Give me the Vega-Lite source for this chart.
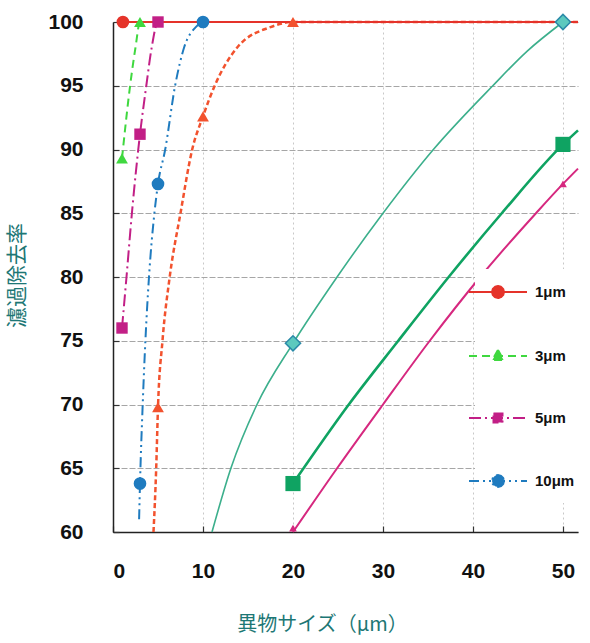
{
  "$schema": "https://vega.github.io/schema/vega-lite/v6.json",
  "width": 465,
  "height": 510,
  "autosize": {"type": "none"},
  "padding": {"left": 113, "top": 22, "right": 12, "bottom": 111},
  "background": "white",
  "config": {
    "view": {"stroke": null},
    "axis": {
      "labelFont": "Liberation Sans",
      "labelFontWeight": "bold",
      "labelFontSize": 21,
      "labelColor": "#111111",
      "ticks": true,
      "tickSize": -6,
      "tickColor": "#333333",
      "tickWidth": 1.2,
      "domainColor": "#222222",
      "domainWidth": 1.5,
      "titleFont": "Noto Sans CJK JP",
      "titleFontWeight": "normal",
      "titleColor": "#1d7775"
    }
  },
  "datasets": {
    "lines": [
      {"series": "1μm", "x": 1, "y": 100},
      {"series": "1μm", "x": 51.67, "y": 100},
      {"series": "3μm", "x": 1, "y": 89.3},
      {"series": "3μm", "x": 1.9, "y": 95},
      {"series": "3μm", "x": 2.5, "y": 98},
      {"series": "3μm", "x": 3, "y": 100},
      {"series": "3μm", "x": 51.67, "y": 100},
      {"series": "5μm", "x": 1, "y": 76},
      {"series": "5μm", "x": 1.5, "y": 80},
      {"series": "5μm", "x": 2.1, "y": 85},
      {"series": "5μm", "x": 3, "y": 91.2},
      {"series": "5μm", "x": 3.7, "y": 95},
      {"series": "5μm", "x": 4.3, "y": 98},
      {"series": "5μm", "x": 5, "y": 100},
      {"series": "5μm", "x": 51.67, "y": 100},
      {"series": "10μm", "x": 2.9, "y": 61},
      {"series": "10μm", "x": 3, "y": 63.8},
      {"series": "10μm", "x": 3.3, "y": 70},
      {"series": "10μm", "x": 3.6, "y": 75},
      {"series": "10μm", "x": 4.0, "y": 80},
      {"series": "10μm", "x": 4.6, "y": 85},
      {"series": "10μm", "x": 5, "y": 87.3},
      {"series": "10μm", "x": 5.8, "y": 90},
      {"series": "10μm", "x": 6.9, "y": 95},
      {"series": "10μm", "x": 7.9, "y": 98},
      {"series": "10μm", "x": 9.2, "y": 99.6},
      {"series": "10μm", "x": 10, "y": 100},
      {"series": "10μm", "x": 51.67, "y": 100},
      {"series": "20μm", "x": 4.5, "y": 60},
      {"series": "20μm", "x": 4.8, "y": 65},
      {"series": "20μm", "x": 5, "y": 69.8},
      {"series": "20μm", "x": 5.5, "y": 75},
      {"series": "20μm", "x": 6.3, "y": 80},
      {"series": "20μm", "x": 7.5, "y": 85},
      {"series": "20μm", "x": 8.8, "y": 90},
      {"series": "20μm", "x": 10, "y": 92.6},
      {"series": "20μm", "x": 11.3, "y": 95},
      {"series": "20μm", "x": 13.8, "y": 98},
      {"series": "20μm", "x": 17.5, "y": 99.6},
      {"series": "20μm", "x": 20, "y": 100},
      {"series": "20μm", "x": 51.67, "y": 100},
      {"series": "30μm", "x": 11, "y": 60},
      {"series": "30μm", "x": 13.1, "y": 65},
      {"series": "30μm", "x": 16, "y": 70},
      {"series": "30μm", "x": 20, "y": 74.8},
      {"series": "30μm", "x": 24.9, "y": 80},
      {"series": "30μm", "x": 30, "y": 85},
      {"series": "30μm", "x": 35.6, "y": 90},
      {"series": "30μm", "x": 42.2, "y": 95},
      {"series": "30μm", "x": 46, "y": 97.7},
      {"series": "30μm", "x": 50, "y": 100},
      {"series": "40μm", "x": 20, "y": 63.8},
      {"series": "40μm", "x": 26.2, "y": 70},
      {"series": "40μm", "x": 31.7, "y": 75},
      {"series": "40μm", "x": 37.3, "y": 80},
      {"series": "40μm", "x": 43.2, "y": 85},
      {"series": "40μm", "x": 50, "y": 90.4},
      {"series": "40μm", "x": 51.67, "y": 91.5},
      {"series": "50μm", "x": 20, "y": 60},
      {"series": "50μm", "x": 24.9, "y": 65},
      {"series": "50μm", "x": 30, "y": 70},
      {"series": "50μm", "x": 35.2, "y": 75},
      {"series": "50μm", "x": 40.8, "y": 80},
      {"series": "50μm", "x": 47, "y": 85},
      {"series": "50μm", "x": 50, "y": 87.3},
      {"series": "50μm", "x": 51.67, "y": 88.5}
    ],
    "markers": [
      {"series": "1μm", "x": 1.1, "y": 100},
      {"series": "3μm", "x": 1, "y": 89.3},
      {"series": "3μm", "x": 3, "y": 100},
      {"series": "5μm", "x": 1, "y": 76},
      {"series": "5μm", "x": 3, "y": 91.2},
      {"series": "5μm", "x": 5, "y": 100},
      {"series": "10μm", "x": 3, "y": 63.8},
      {"series": "10μm", "x": 5, "y": 87.3},
      {"series": "10μm", "x": 10, "y": 100},
      {"series": "20μm", "x": 5, "y": 69.8},
      {"series": "20μm", "x": 10, "y": 92.6},
      {"series": "20μm", "x": 20, "y": 100},
      {"series": "30μm", "x": 20, "y": 74.8},
      {"series": "30μm", "x": 50, "y": 100},
      {"series": "40μm", "x": 20, "y": 63.8},
      {"series": "40μm", "x": 50, "y": 90.4},
      {"series": "50μm", "x": 20, "y": 60.3},
      {"series": "50μm", "x": 50, "y": 87.3}
    ]
  },
  "encoding": {
    "x": {
      "field": "x", "type": "quantitative",
      "scale": {"domain": [0, 51.67], "nice": false, "zero": false},
      "axis": {
        "values": [0, 10, 20, 30, 40, 50],
        "title": "異物サイズ（μm）",
        "titleFontSize": 20,
        "grid": true, "gridColor": "#c8c8c8", "gridDash": [2, 3],
        "labelPadding": 34,
        "titleX": 209, "titleY": 82, "titleAlign": "center", "titleBaseline": "top"
      }
    },
    "y": {
      "field": "y", "type": "quantitative",
      "scale": {"domain": [60, 100], "nice": false, "zero": false},
      "axis": {
        "values": [60, 65, 70, 75, 80, 85, 90, 95, 100],
        "title": "濾過除去率",
        "titleFontSize": 21,
        "grid": true, "gridColor": "#a6a6a6", "gridDash": [6, 2],
        "labelPadding": 36,
        "titleX": -95.5, "titleY": 253, "titleAlign": "center", "titleBaseline": "middle", "titleAngle": -90
      }
    },
    "color": {
      "field": "series", "type": "nominal", "legend": null,
      "scale": {
        "domain": ["1μm", "3μm", "5μm", "10μm", "20μm", "30μm", "40μm", "50μm"],
        "range": ["#e5332a", "#3fd83f", "#c21f86", "#1f7bbf", "#f2522e", "#3caf8c", "#0fa362", "#d6287f"]
      }
    }
  },
  "layer": [
    {"data": {"name": "lines"}, "transform": [{"filter": "datum.series === '30μm'"}],
     "mark": {"type": "line", "interpolate": "monotone", "strokeWidth": 1.6}},
    {"data": {"name": "lines"}, "transform": [{"filter": "datum.series === '40μm'"}],
     "mark": {"type": "line", "interpolate": "monotone", "strokeWidth": 2.6}},
    {"data": {"name": "lines"}, "transform": [{"filter": "datum.series === '50μm'"}],
     "mark": {"type": "line", "interpolate": "monotone", "strokeWidth": 2}},
    {"data": {"name": "lines"}, "transform": [{"filter": "datum.series === '20μm'"}],
     "mark": {"type": "line", "interpolate": "monotone", "strokeWidth": 2.5, "strokeDash": [5, 3]}},
    {"data": {"name": "lines"}, "transform": [{"filter": "datum.series === '10μm'"}],
     "mark": {"type": "line", "interpolate": "monotone", "strokeWidth": 2, "strokeDash": [10, 4, 2, 4, 2, 4]}},
    {"data": {"name": "lines"}, "transform": [{"filter": "datum.series === '5μm'"}],
     "mark": {"type": "line", "interpolate": "monotone", "strokeWidth": 2, "strokeDash": [12, 4, 2, 4]}},
    {"data": {"name": "lines"}, "transform": [{"filter": "datum.series === '3μm'"}],
     "mark": {"type": "line", "interpolate": "monotone", "strokeWidth": 2, "strokeDash": [8, 5]}},
    {"data": {"name": "lines"}, "transform": [{"filter": "datum.series === '1μm'"}],
     "mark": {"type": "line", "interpolate": "monotone", "strokeWidth": 2}},
    {"data": {"name": "markers"}, "transform": [{"filter": "datum.series === '1μm' || datum.series === '10μm'"}],
     "mark": {"type": "point", "shape": "circle", "filled": true, "opacity": 1, "size": 160}},
    {"data": {"name": "markers"}, "transform": [{"filter": "datum.series === '3μm' || datum.series === '20μm'"}],
     "mark": {"type": "point", "shape": "triangle-up", "filled": true, "opacity": 1, "size": 140}},
    {"data": {"name": "markers"}, "transform": [{"filter": "datum.series === '5μm'"}],
     "mark": {"type": "point", "shape": "square", "filled": true, "opacity": 1, "size": 130}},
    {"data": {"name": "markers"}, "transform": [{"filter": "datum.series === '40μm'"}],
     "mark": {"type": "point", "shape": "square", "filled": true, "opacity": 1, "size": 230}},
    {"data": {"name": "markers"}, "transform": [{"filter": "datum.series === '50μm'"}],
     "mark": {"type": "point", "shape": "triangle-up", "filled": true, "opacity": 1, "size": 60}},
    {"data": {"name": "markers"}, "transform": [{"filter": "datum.series === '30μm'"}],
     "mark": {"type": "point", "shape": "diamond", "filled": true, "opacity": 1, "size": 230, "fill": "#5cc9be", "stroke": "#2a8aa8", "strokeWidth": 1.5},
     "encoding": {"color": {"value": "#5cc9be"}}},
    {"data": {"name": "markers"},
     "transform": [{"filter": "datum.series === '1μm' || datum.series === '3μm' || datum.series === '5μm' || datum.series === '10μm'"}],
     "mark": {"type": "point", "opacity": 0, "filled": true},
     "encoding": {
       "color": {"value": "transparent"},
       "fill": {
         "field": "series", "type": "nominal",
         "scale": {"domain": ["1μm", "3μm", "5μm", "10μm"], "range": ["#e5332a", "#3fd83f", "#c21f86", "#1f7bbf"]},
         "legend": {
           "orient": "none", "legendX": 362, "legendY": 247, "title": null,
           "fillColor": "white", "padding": 12,
           "symbolSize": 400, "symbolStrokeWidth": 2, "symbolOpacity": 1,
           "labelFont": "Liberation Sans", "labelFontSize": 15, "labelFontWeight": "bold",
           "labelColor": "#111111", "labelOffset": 26, "rowPadding": 43
         }
       },
       "stroke": {
         "field": "series", "type": "nominal",
         "scale": {"domain": ["1μm", "3μm", "5μm", "10μm"], "range": ["#e5332a", "#3fd83f", "#c21f86", "#1f7bbf"]},
         "legend": {
           "orient": "none", "legendX": 362, "legendY": 247, "title": null,
           "fillColor": "white", "padding": 12,
           "symbolSize": 400, "symbolStrokeWidth": 2, "symbolOpacity": 1,
           "labelFont": "Liberation Sans", "labelFontSize": 15, "labelFontWeight": "bold",
           "labelColor": "#111111", "labelOffset": 26, "rowPadding": 43
         }
       },
       "shape": {
         "field": "series", "type": "nominal",
         "scale": {
           "domain": ["1μm", "3μm", "5μm", "10μm"],
           "range": [
             "M-2.9,0H2.9M0.6,0L0.52,0.3L0.3,0.52L0,0.6L-0.3,0.52L-0.52,0.3L-0.6,0L-0.52,-0.3L-0.3,-0.52L0,-0.6L0.3,-0.52L0.52,-0.3Z",
             "M-2.9,0H2.9M0,-0.6L0.56,0.4L-0.56,0.4Z",
             "M-2.9,0H2.9M-0.45,-0.45H0.45V0.45H-0.45Z",
             "M-2.9,0H2.9M0.6,0L0.52,0.3L0.3,0.52L0,0.6L-0.3,0.52L-0.52,0.3L-0.6,0L-0.52,-0.3L-0.3,-0.52L0,-0.6L0.3,-0.52L0.52,-0.3Z"
           ]
         },
         "legend": {
           "orient": "none", "legendX": 362, "legendY": 247, "title": null,
           "fillColor": "white", "padding": 12,
           "symbolSize": 400, "symbolStrokeWidth": 2, "symbolOpacity": 1,
           "labelFont": "Liberation Sans", "labelFontSize": 15, "labelFontWeight": "bold",
           "labelColor": "#111111", "labelOffset": 26, "rowPadding": 43
         }
       },
       "strokeDash": {
         "field": "series", "type": "nominal",
         "scale": {"domain": ["1μm", "3μm", "5μm", "10μm"], "range": [[1, 0], [8, 5], [12, 4, 2, 4], [10, 4, 2, 4, 2, 4]]},
         "legend": {
           "orient": "none", "legendX": 362, "legendY": 247, "title": null,
           "fillColor": "white", "padding": 12,
           "symbolSize": 400, "symbolStrokeWidth": 2, "symbolOpacity": 1,
           "labelFont": "Liberation Sans", "labelFontSize": 15, "labelFontWeight": "bold",
           "labelColor": "#111111", "labelOffset": 26, "rowPadding": 43
         }
       }
     }}
  ]
}
